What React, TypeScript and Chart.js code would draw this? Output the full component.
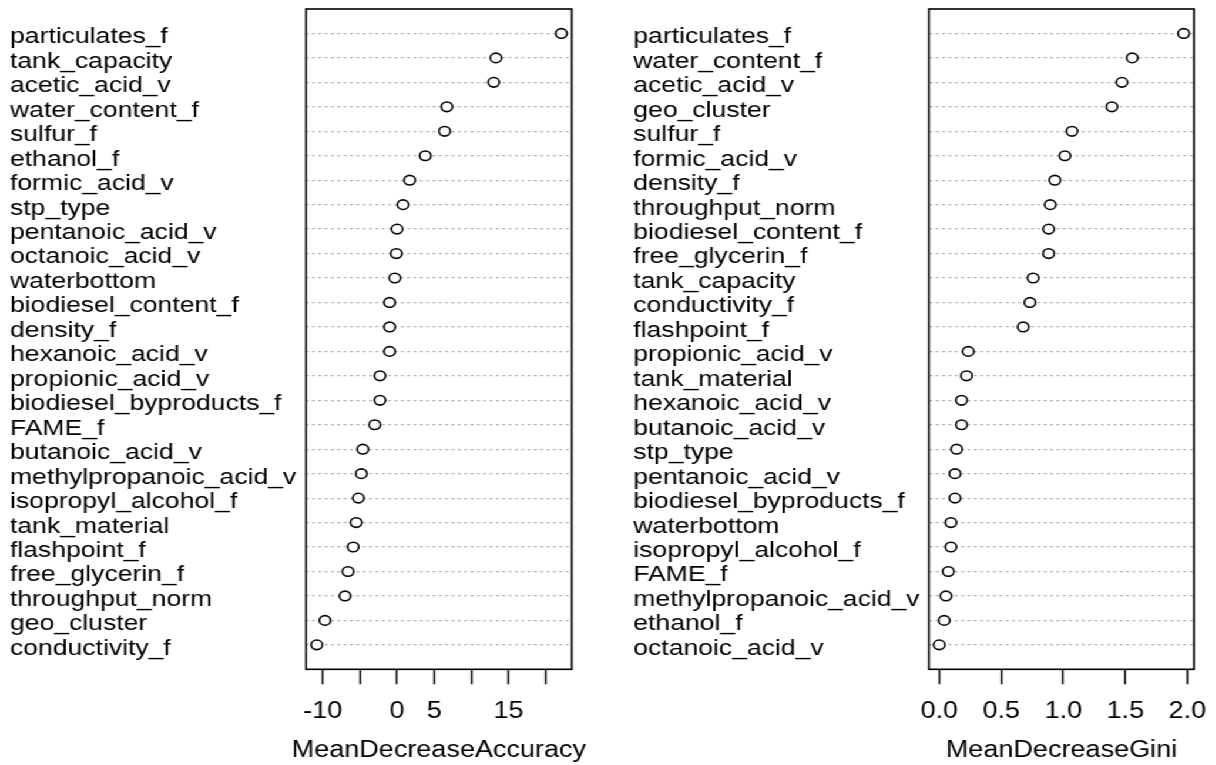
import React, { useEffect, useRef } from 'react';
import { Chart, registerables } from 'chart.js';

Chart.register(...registerables);

// ---- Data ----
const accLabels = [
  'particulates_f', 'tank_capacity', 'acetic_acid_v', 'water_content_f', 'sulfur_f',
  'ethanol_f', 'formic_acid_v', 'stp_type', 'pentanoic_acid_v', 'octanoic_acid_v',
  'waterbottom', 'biodiesel_content_f', 'density_f', 'hexanoic_acid_v', 'propionic_acid_v',
  'biodiesel_byproducts_f', 'FAME_f', 'butanoic_acid_v', 'methylpropanoic_acid_v',
  'isopropyl_alcohol_f', 'tank_material', 'flashpoint_f', 'free_glycerin_f',
  'throughput_norm', 'geo_cluster', 'conductivity_f',
];
const accValues = [
  22.1, 13.3, 13.0, 6.7, 6.4, 3.8, 1.7, 0.8, 0.0, -0.1, -0.3, -1.0, -1.0, -1.0, -2.3,
  -2.3, -3.0, -4.6, -4.8, -5.2, -5.5, -5.9, -6.6, -7.0, -9.7, -10.8,
];
const accTicks = [-10, -5, 0, 5, 10, 15, 20];
const accTickLabels = ['-10', '', '0', '5', '', '15', ''];
const accTitle = 'MeanDecreaseAccuracy';

const giniLabels = [
  'particulates_f', 'water_content_f', 'acetic_acid_v', 'geo_cluster', 'sulfur_f',
  'formic_acid_v', 'density_f', 'throughput_norm', 'biodiesel_content_f', 'free_glycerin_f',
  'tank_capacity', 'conductivity_f', 'flashpoint_f', 'propionic_acid_v', 'tank_material',
  'hexanoic_acid_v', 'butanoic_acid_v', 'stp_type', 'pentanoic_acid_v',
  'biodiesel_byproducts_f', 'waterbottom', 'isopropyl_alcohol_f', 'FAME_f',
  'methylpropanoic_acid_v', 'ethanol_f', 'octanoic_acid_v',
];
const giniValues = [
  1.97, 1.556, 1.473, 1.392, 1.07, 1.013, 0.932, 0.895, 0.882, 0.882, 0.757, 0.731, 0.677,
  0.234, 0.22, 0.18, 0.18, 0.14, 0.127, 0.127, 0.094, 0.094, 0.073, 0.054, 0.04, 0.0,
];
const giniTicks = [0, 0.5, 1, 1.5, 2];
const giniTickLabels = ['0.0', '0.5', '1.0', '1.5', '2.0'];
const giniTitle = 'MeanDecreaseGini';

// ---- Styling ----
const FONT = '"Liberation Sans", Arial, Helvetica, sans-serif';
const FONT_SIZE = 23;
const LABEL_SIZE = 22.6;
const SX = 1.175; // horizontal stretch of the original picture
const INNER_W = 1216 / SX;

const boxPlugin = {
  id: 'rBox',
  beforeDatasetsDraw(chart: any) {
    const { ctx, chartArea } = chart;
    ctx.save();
    ctx.strokeStyle = '#000';
    ctx.lineWidth = 1.6;
    ctx.setLineDash([]);
    ctx.strokeRect(chartArea.left, chartArea.top, chartArea.right - chartArea.left, chartArea.bottom - chartArea.top);
    ctx.restore();
  },
};

// Axis title centred under the plot box, without Chart.js' width squeezing
const axisTitlePlugin = {
  id: 'rAxisTitle',
  afterDraw(chart: any, _args: any, opts: any) {
    const { ctx, chartArea } = chart;
    ctx.save();
    ctx.font = `${FONT_SIZE}px ${FONT}`;
    ctx.fillStyle = '#000';
    ctx.textAlign = 'center';
    ctx.textBaseline = 'middle';
    ctx.fillText(opts.text, (chartArea.left + chartArea.right) / 2, opts.y);
    ctx.restore();
  },
};

function zeroPad(s: any) {
  s.paddingTop = 0;
  s.paddingBottom = 0;
  s.paddingLeft = 0;
  s.paddingRight = 0;
}

function makeConfig(
  labels: string[], values: number[], ticks: number[], tickLabels: string[],
  min: number, max: number, title: string, axisWidth: number, padLeft: number, padRight: number,
): any {
  return {
    type: 'scatter',
    data: {
      datasets: [{
        data: values.map((v, i) => ({ x: v, y: i + 1 })),
        pointRadius: 4.8,
        pointBorderWidth: 1.6,
        pointBorderColor: '#000',
        pointBackgroundColor: '#fff',
        showLine: false,
      }],
    },
    options: {
      animation: false,
      responsive: false,
      events: [],
      layout: { autoPadding: false, padding: { left: padLeft, right: padRight, top: 9, bottom: 0 } },
      plugins: {
        legend: { display: false },
        tooltip: { enabled: false },
        rAxisTitle: { text: title, y: 750.5 },
      },
      scales: {
        x: {
          type: 'linear', position: 'bottom', min, max,
          afterBuildTicks: (s: any) => { s.ticks = ticks.map((v) => ({ value: v })); },
          afterFit: (s: any) => { s.height = 95.7; zeroPad(s); },
          ticks: {
            autoSkip: false, maxRotation: 0, minRotation: 0, padding: 14, color: '#000',
            font: { family: FONT, size: FONT_SIZE },
            callback: (_v: any, i: number) => tickLabels[i],
          },
          grid: { drawOnChartArea: false, drawTicks: true, tickLength: 15, tickColor: '#000', tickWidth: 1.5 },
          border: { display: false },
        },
        y: {
          type: 'linear', position: 'left', min: 0, max: 27, reverse: true,
          afterBuildTicks: (s: any) => { s.ticks = labels.map((_l, i) => ({ value: i + 1 })); },
          afterFit: (s: any) => { s.width = axisWidth; zeroPad(s); },
          ticks: {
            autoSkip: false, crossAlign: 'far', labelOffset: 3.7, color: '#000',
            font: { family: FONT, size: LABEL_SIZE },
            callback: (_v: any, i: number) => labels[i],
          },
          grid: { drawTicks: false, color: '#b4b4b4', lineWidth: 1.2 },
          border: { display: false, dash: [2.6, 2.8] },
        },
      },
    },
    plugins: [boxPlugin, axisTitlePlugin],
  };
}

export default function App() {
  const ref1 = useRef<HTMLCanvasElement>(null);
  const ref2 = useRef<HTMLCanvasElement>(null);

  useEffect(() => {
    const c1 = new Chart(ref1.current as HTMLCanvasElement, makeConfig(
      accLabels, accValues, accTicks, accTickLabels, -12.25, 23.5, accTitle, 251.9, 8.5, 33.4,
    ));
    const c2 = new Chart(ref2.current as HTMLCanvasElement, makeConfig(
      giniLabels, giniValues, giniTicks, giniTickLabels, -0.083, 2.054, giniTitle, 251.6, 19, 18.8,
    ));
    return () => { c1.destroy(); c2.destroy(); };
  }, []);

  return (
    <div style={{ position: 'absolute', left: 0, top: 0, width: 1216, height: 765, overflow: 'hidden', background: '#fff' }}>
      <div style={{ position: 'absolute', left: 0, top: 0, width: INNER_W, height: 765, transform: `scaleX(${SX})`, transformOrigin: '0 0' }}>
        <div style={{ position: 'absolute', left: 0, top: 0, width: 520, height: 765 }}>
          <canvas ref={ref1} width={520} height={765} />
        </div>
        <div style={{ position: 'absolute', left: 520, top: 0, width: 515, height: 765 }}>
          <canvas ref={ref2} width={515} height={765} />
        </div>
      </div>
    </div>
  );
}
